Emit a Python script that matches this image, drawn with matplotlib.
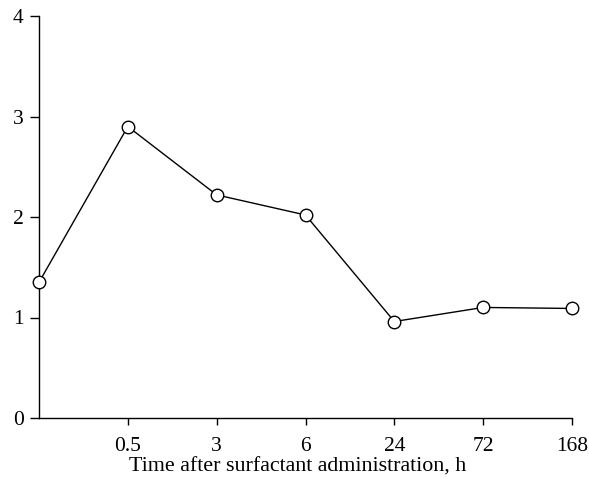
import matplotlib
matplotlib.use("Agg")
import matplotlib.pyplot as plt

categories = ["", "0.5", "3", "6", "24", "72", "168"]
values = [1.35, 2.90, 2.22, 2.02, 0.96, 1.10, 1.09]
yticks = [0, 1, 2, 3, 4]

plt.rcParams['font.family'] = ['Liberation Serif', 'DejaVu Serif']

fig = plt.figure(figsize=(5.89, 4.79), dpi=100)
ax = fig.add_axes([39/589, 1-418/479, (572-39)/589, (418-16)/479])
x = list(range(len(categories)))
ax.plot(x, values, color='black', lw=1, marker='o', ms=9,
        markerfacecolor='white', markeredgecolor='black', markeredgewidth=1, clip_on=False, zorder=3)
ax.set_xlim(0, len(categories)-1)
ax.set_ylim(0, 4)
ax.set_xticks(x[1:])
ax.set_xticklabels(categories[1:], fontsize=15.5)
ax.set_yticks(yticks)
ax.set_yticklabels([str(t) for t in yticks], fontsize=15.5)
for s in ['top', 'right']:
    ax.spines[s].set_visible(False)
for s in ['left', 'bottom']:
    ax.spines[s].set_linewidth(1)
ax.tick_params(axis='x', direction='out', length=5, width=1, pad=9)
ax.tick_params(axis='y', direction='out', length=6.5, width=1, pad=4.5)
ax.set_xlabel("Time after surfactant administration, h", fontsize=15.8)
ax.xaxis.set_label_coords((298-39)/533, -(467-418)/402, transform=ax.transAxes)
ax.xaxis.label.set_va('center')
fig.savefig("out.png", dpi=100)
